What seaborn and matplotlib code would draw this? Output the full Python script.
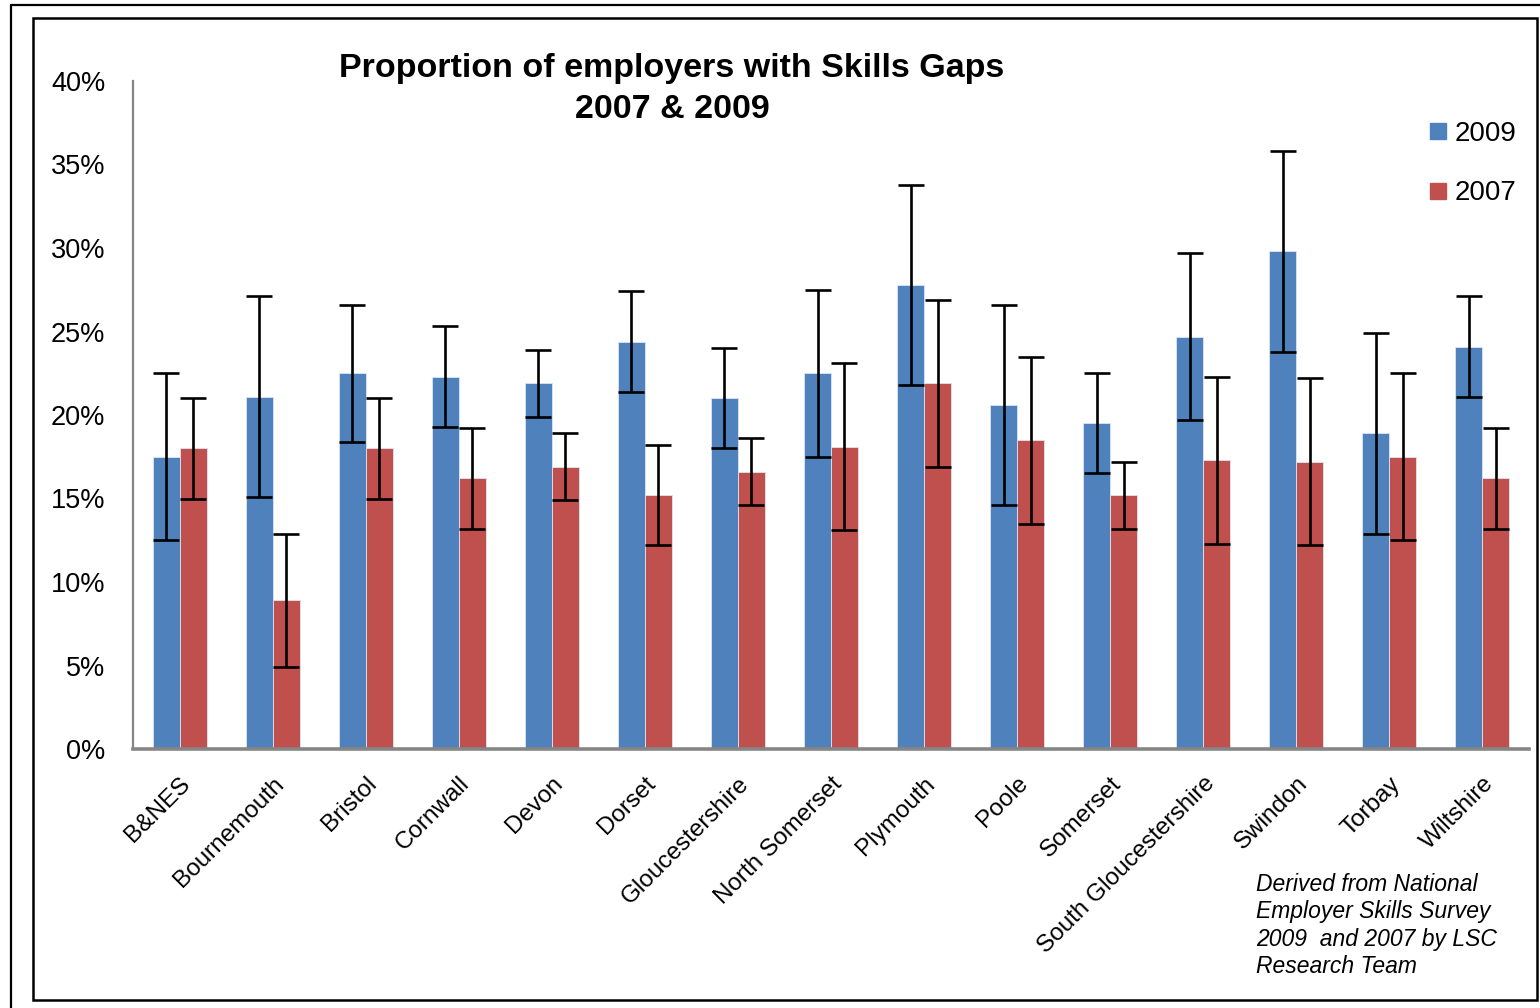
import matplotlib
matplotlib.use("Agg")
import matplotlib.pyplot as plt
from matplotlib.lines import Line2D
from matplotlib.patches import Rectangle
from matplotlib.ticker import FuncFormatter, MultipleLocator
import numpy as np
import pandas as pd
import seaborn as sns

# Local areas in the South West
areas = ["B&NES", "Bournemouth", "Bristol", "Cornwall", "Devon", "Dorset",
         "Gloucestershire", "North Somerset", "Plymouth", "Poole", "Somerset",
         "South Gloucestershire", "Swindon", "Torbay", "Wiltshire"]

# Share of employers reporting skills gaps (%)
gaps_2009 = [17.5, 21.1, 22.5, 22.3, 21.9, 24.4, 21.0, 22.5, 27.8, 20.6, 19.5, 24.7, 29.8, 18.9, 24.1]
gaps_2007 = [18.0, 8.9, 18.0, 16.2, 16.9, 15.2, 16.6, 18.1, 21.9, 18.5, 15.2, 17.3, 17.2, 17.5, 16.2]

# Confidence interval half-widths (percentage points)
ci_2009 = [5.0, 6.0, 4.1, 3.0, 2.0, 3.0, 3.0, 5.0, 6.0, 6.0, 3.0, 5.0, 6.0, 6.0, 3.0]
ci_2007 = [3.0, 4.0, 3.0, 3.0, 2.0, 3.0, 2.0, 5.0, 5.0, 5.0, 2.0, 5.0, 5.0, 5.0, 3.0]

years = ["2009", "2007"]
colors = {"2009": "#4F81BD", "2007": "#C0504D"}

df = pd.DataFrame({
    "area": areas * 2,
    "year": ["2009"] * len(areas) + ["2007"] * len(areas),
    "share": gaps_2009 + gaps_2007,
})

sns.set_theme(style="white")
plt.rcParams["font.family"] = ["Liberation Sans", "DejaVu Sans"]
plt.rcParams["text.color"] = "black"
plt.rcParams["xtick.color"] = "black"
plt.rcParams["ytick.color"] = "black"

fig = plt.figure(figsize=(15.4, 10.08), dpi=100)
ax = fig.add_axes([133 / 1540, 1 - 749 / 1008, (1529 - 133) / 1540, (749 - 81) / 1008])

sns.barplot(data=df, x="area", y="share", hue="year", hue_order=years,
            order=areas, palette=colors, width=0.58, errorbar=None,
            edgecolor="#DCE6F2", linewidth=0.6, saturation=1, ax=ax, legend=False)

# Error bars at the centre of each drawn bar
bars_by_year = {}
for container, yr in zip(ax.containers, years):
    bars_by_year[yr] = container
for yr, errs in (("2009", ci_2009), ("2007", ci_2007)):
    patches = bars_by_year[yr].patches
    xs = [p.get_x() + p.get_width() / 2 for p in patches]
    hs = [p.get_height() for p in patches]
    ax.errorbar(xs, hs, yerr=errs, fmt="none", ecolor="black",
                elinewidth=1.9, capsize=9.5, capthick=1.9, zorder=5)

ax.set_ylim(0, 40)
ax.set_xlim(-0.5, len(areas) - 0.5)
ax.yaxis.set_major_locator(MultipleLocator(5))
ax.yaxis.set_major_formatter(FuncFormatter(lambda v, _: f"{v:.0f}%"))
ax.set_xlabel("")
ax.set_ylabel("")
ax.tick_params(axis="y", length=0, pad=20, labelsize=19.5, labelcolor="black")
ax.tick_params(axis="x", length=0, pad=17, labelsize=17.5, labelcolor="black")
for lbl in ax.get_xticklabels():
    lbl.set_rotation(45)
    lbl.set_ha("right")
    lbl.set_rotation_mode("anchor")

for side in ("top", "right"):
    ax.spines[side].set_visible(False)
ax.spines["left"].set_color("#868686")
ax.spines["left"].set_linewidth(1.6)
ax.spines["bottom"].set_color("#868686")
ax.spines["bottom"].set_linewidth(2.6)
ax.grid(False)

# Title
fig.text(672 / 1540, 1 - 89 / 1008, "Proportion of employers with Skills Gaps\n2007 & 2009",
         ha="center", va="center", fontsize=24.5, fontweight="bold", linespacing=1.38,
         color="black")

# Legend
handles = [Line2D([0], [0], marker="s", linestyle="none", markersize=11,
                  markerfacecolor=colors[y], markeredgecolor=colors[y]) for y in years]
fig.legend(handles, years, loc="upper left", bbox_to_anchor=(1430 / 1540, 1 - 121 / 1008),
           frameon=False, fontsize=20, handlelength=0.6, handletextpad=0.3,
           labelspacing=1.2, borderpad=0, borderaxespad=0)

# Source note
fig.text(1256 / 1540, 1 - 873 / 1008,
         "Derived from National\nEmployer Skills Survey\n2009  and 2007 by LSC\nResearch Team",
         ha="left", va="top", fontsize=16.5, fontstyle="italic", linespacing=1.24,
         color="black")

# Chart frames
fig.patches.append(Rectangle((33 / 1540, 1 - 1000 / 1008), (1537 - 33) / 1540, (1000 - 18) / 1008,
                             transform=fig.transFigure, fill=False, edgecolor="black",
                             linewidth=1.8, zorder=10))
fig.lines.append(Line2D([11 / 1540, 11 / 1540], [0, 1 - 5 / 1008], transform=fig.transFigure,
                        color="black", linewidth=1.6))
fig.lines.append(Line2D([11 / 1540, 1], [1 - 5 / 1008, 1 - 5 / 1008], transform=fig.transFigure,
                        color="black", linewidth=1.6))

fig.savefig("out.png", dpi=100)
